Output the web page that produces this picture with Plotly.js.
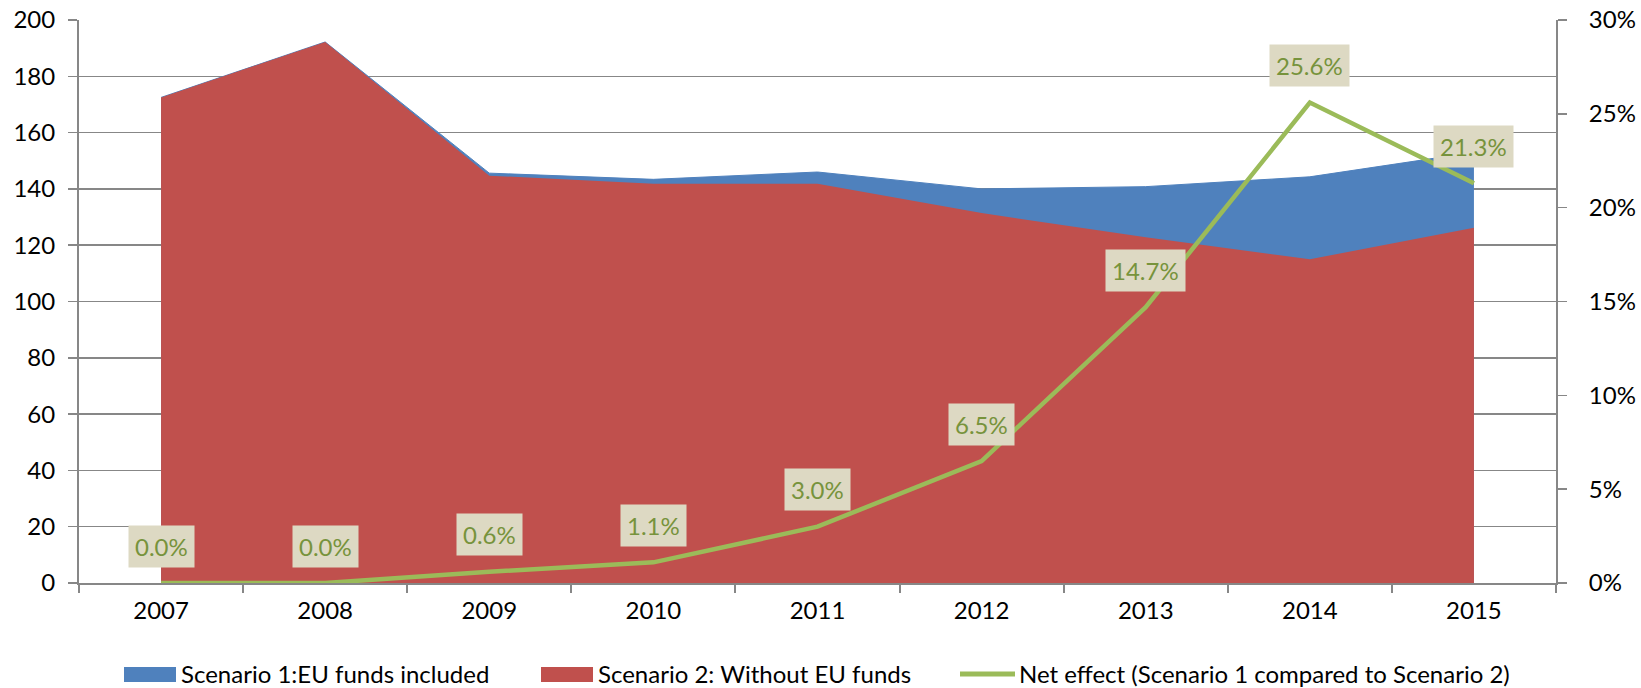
<!DOCTYPE html>
<html>
<head>
<meta charset="utf-8">
<script src="https://cdn.plot.ly/plotly-3.0.1.min.js"></script>
<style>
  html, body { margin: 0; padding: 0; background: #fff; }
  #chart { width: 1641px; height: 688px; }
</style>
</head>
<body>
<div id="chart"></div>
<script>
// ---- data ----
const years = ['2007', '2008', '2009', '2010', '2011', '2012', '2013', '2014', '2015'];
const scenario1 = [172.5, 192.2, 145.6, 143.4, 146.0, 140.0, 140.8, 144.3, 153.0];
const scenario2 = [172.5, 192.2, 144.7, 141.8, 141.8, 131.4, 122.8, 115.0, 126.2];
const netEffect = [0.000, 0.000, 0.006, 0.011, 0.030, 0.065, 0.147, 0.256, 0.213];
const seriesNames = [
  'Scenario 1:EU funds included',
  'Scenario 2: Without EU funds',
  'Net effect (Scenario 1 compared to Scenario 2)'
];

// ---- styling ----
const W = 1641, H = 688;
const M = { l: 79, r: 85, t: 20, b: 105 };
const PW = W - M.l - M.r, PH = H - M.t - M.b;
const FONT = 'Lato, "Open Sans", sans-serif';
const BLUE = '#4F81BD', RED = '#C0504D', GREEN = '#9BBB59';
const GRID = '#878787';

const px2x = px => (px - M.l) / PW;
const py2y = py => (H - M.b - py) / PH;

const traces = [
  {
    x: years, y: scenario1, name: seriesNames[0], type: 'scatter', mode: 'lines',
    fill: 'tozeroy', fillcolor: BLUE, line: { color: BLUE, width: 1 },
    hoverinfo: 'skip', showlegend: false
  },
  {
    x: years, y: scenario2, name: seriesNames[1], type: 'scatter', mode: 'lines',
    fill: 'tozeroy', fillcolor: RED, line: { color: RED, width: 0 },
    hoverinfo: 'skip', showlegend: false
  },
  {
    x: years, y: netEffect, name: seriesNames[2], type: 'scatter', mode: 'lines',
    yaxis: 'y2', line: { color: GREEN, width: 4.5 },
    hoverinfo: 'skip', showlegend: false
  }
];

// data labels on the net effect line (x given as category index)
const annotations = years.map((yr, i) => ({
  x: i, y: netEffect[i], xref: 'x', yref: 'y2',
  text: (netEffect[i] * 100).toFixed(1) + '%',
  showarrow: false, yshift: 37,
  xanchor: 'center', yanchor: 'middle',
  bgcolor: '#DDD9C3', borderpad: 6,
  font: { family: FONT, size: 24, color: '#77933C' }
}));

// custom legend
const legendY = 673;
const legendText = [
  { x: 181, text: seriesNames[0] },
  { x: 598, text: seriesNames[1] },
  { x: 1019, text: seriesNames[2] }
];
legendText.forEach(t => annotations.push({
  xref: 'paper', yref: 'paper', x: px2x(t.x), y: py2y(legendY),
  xanchor: 'left', yanchor: 'middle', text: t.text, showarrow: false,
  borderpad: 0, borderwidth: 0,
  font: { family: FONT, size: 24, color: '#000000' }
}));

const shapes = [
  { type: 'rect', xref: 'paper', yref: 'paper', x0: px2x(124), x1: px2x(176),
    y0: py2y(682), y1: py2y(667), fillcolor: BLUE, line: { width: 0 } },
  { type: 'rect', xref: 'paper', yref: 'paper', x0: px2x(541), x1: px2x(593),
    y0: py2y(682), y1: py2y(667), fillcolor: RED, line: { width: 0 } },
  { type: 'line', xref: 'paper', yref: 'paper', x0: px2x(960), x1: px2x(1015),
    y0: py2y(674), y1: py2y(674), line: { color: GREEN, width: 5 } }
];

const layout = {
  width: W, height: H,
  margin: M,
  paper_bgcolor: '#ffffff', plot_bgcolor: '#ffffff',
  font: { family: FONT, size: 24, color: '#000000' },
  showlegend: false,
  hovermode: false,
  xaxis: {
    type: 'category', range: [-0.5, 8.5],
    showgrid: false, zeroline: false,
    showline: true, linecolor: GRID, linewidth: 2,
    ticks: 'outside', tickson: 'boundaries', ticklen: 8, tickwidth: 2, tickcolor: GRID,
    ticklabelstandoff: 5,
    tickfont: { family: FONT, size: 24, color: '#000' }
  },
  yaxis: {
    range: [0, 200], dtick: 20, tick0: 0,
    showgrid: true, gridcolor: GRID, gridwidth: 1.5,
    zeroline: false,
    showline: true, linecolor: GRID, linewidth: 2,
    ticks: 'outside', ticklen: 9, tickwidth: 1.5, tickcolor: GRID,
    ticklabelstandoff: 8,
    tickfont: { family: FONT, size: 24, color: '#000' }
  },
  yaxis2: {
    overlaying: 'y', side: 'right',
    range: [0, 0.30], dtick: 0.05, tick0: 0, tickformat: '.0%',
    showgrid: false, zeroline: false,
    showline: true, linecolor: GRID, linewidth: 2,
    ticks: 'outside', ticklen: 9, tickwidth: 1.5, tickcolor: GRID,
    ticklabelstandoff: 17,
    tickfont: { family: FONT, size: 24, color: '#000' }
  },
  annotations: annotations,
  shapes: shapes
};

Plotly.newPlot('chart', traces, layout, { displayModeBar: false, staticPlot: true });
</script>
</body>
</html>
